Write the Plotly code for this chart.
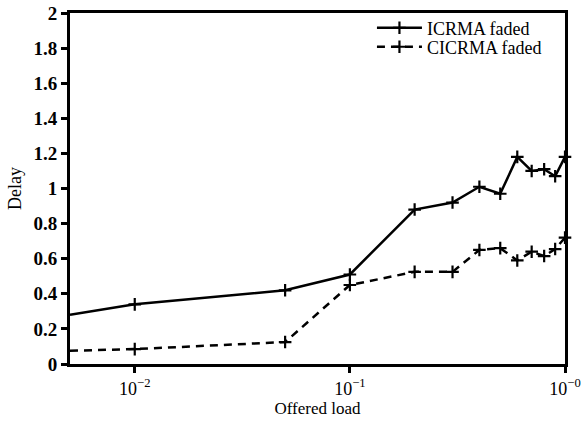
import plotly.graph_objects as go

load = [0.005, 0.01, 0.05, 0.1, 0.2, 0.3, 0.4, 0.5, 0.6, 0.7, 0.8, 0.9, 1.0]
icrma = [0.28, 0.34, 0.42, 0.51, 0.88, 0.92, 1.01, 0.97, 1.18, 1.10, 1.11, 1.07, 1.18]
cicrma = [0.075, 0.085, 0.125, 0.45, 0.525, 0.525, 0.65, 0.66, 0.59, 0.64, 0.615, 0.655, 0.72]
x_tickvals = [0.01, 0.1, 1.0]
x_ticktext = ["10<sup>−2</sup>", "10<sup>−1</sup>", "10<sup>−0</sup>"]
y_tickvals = [0, 0.2, 0.4, 0.6, 0.8, 1, 1.2, 1.4, 1.6, 1.8, 2]
y_ticktext = ["0", "0.2", "0.4", "0.6", "0.8", "1", "1.2", "1.4", "1.6", "1.8", "2"]

FONT = "Liberation Serif, Times New Roman, serif"

fig = go.Figure()
fig.add_trace(go.Scatter(
    x=load, y=icrma, name="ICRMA faded", mode="lines+markers",
    line=dict(color="black", width=2.5),
    marker=dict(symbol="cross-thin", size=9, line=dict(color="black", width=2.2)),
    cliponaxis=False, legend="legend",
))
fig.add_trace(go.Scatter(
    x=load, y=cicrma, name="CICRMA faded", mode="lines+markers",
    line=dict(color="black", width=2.5, dash="8px,6px"),
    marker=dict(symbol="cross-thin", size=9, line=dict(color="black", width=2.2)),
    cliponaxis=False, legend="legend2",
))

leg_common = dict(bgcolor="rgba(0,0,0,0)", font=dict(size=18, family=FONT),
                  xanchor="left", yanchor="middle", x=0.61, itemwidth=45)

fig.update_layout(
    width=585, height=422,
    margin=dict(l=70, r=20, t=13, b=58, autoexpand=False),
    paper_bgcolor="white", plot_bgcolor="white",
    font=dict(family=FONT, color="black", size=18),
    showlegend=True,
    legend=dict(y=0.957, **leg_common),
    legend2=dict(y=0.903, **leg_common),
    xaxis=dict(
        type="log", range=[-2.301, 0], automargin=False,
        tickvals=x_tickvals, ticktext=x_ticktext,
        ticks="outside", ticklen=6, tickwidth=2.5, tickcolor="black",
        showline=True, linecolor="black", linewidth=3, mirror=True,
        showgrid=False, zeroline=False, ticklabeloverflow="allow",
        tickfont=dict(size=18, family=FONT),
        title=dict(text="Offered load", font=dict(size=17, family=FONT), standoff=0),
    ),
    yaxis=dict(
        range=[0, 2], automargin=False,
        tickvals=y_tickvals, ticktext=["<b>%s</b>" % t for t in y_ticktext],
        ticks="outside", ticklen=6, tickwidth=2.5, tickcolor="black",
        showline=True, linecolor="black", linewidth=3, mirror=True,
        showgrid=False, zeroline=False, ticklabeloverflow="allow",
        tickfont=dict(size=19, family=FONT),
        title=dict(text="Delay", font=dict(size=18, family=FONT), standoff=8),
    ),
)

fig.write_html("out.html",
               config={"displayModeBar": False},
               post_script="document.body.style.margin='0';document.body.style.overflow='hidden';")
